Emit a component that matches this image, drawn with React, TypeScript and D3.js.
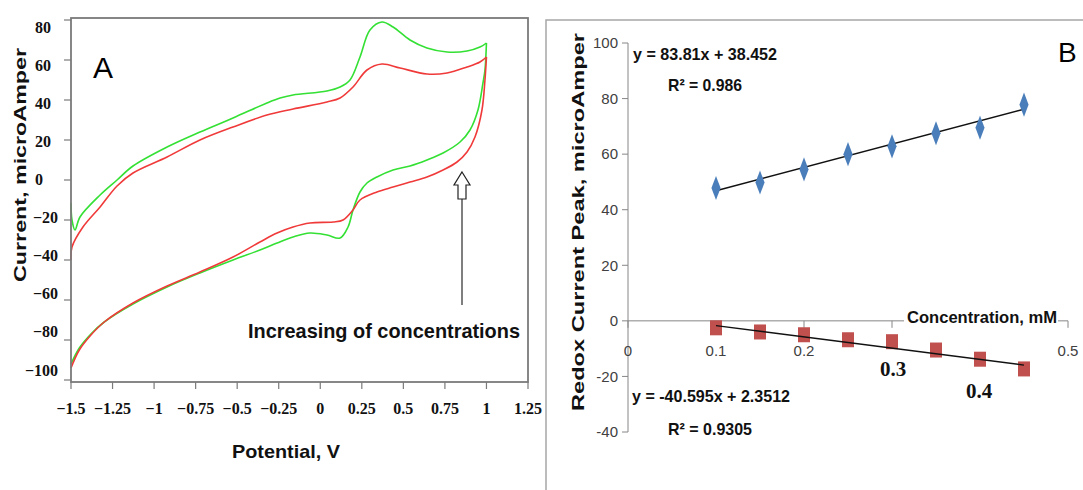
import React from "react";
import * as d3 from "d3";

// Panel A: cyclic voltammograms, [potential V, current microAmper]
const greenForward: [number, number][] = [
  [-1.5, -11.5], [-1.494, -20], [-1.476, -25], [-1.446, -18.5], [-1.325, -7.5],
  [-1.223, 0], [-1.127, 7], [-0.922, 16.5], [-0.724, 24], [-0.525, 31],
  [-0.321, 38.5], [-0.242, 41], [-0.164, 42.5], [0.04, 44.5], [0.119, 46.5],
  [0.179, 50], [0.239, 61.5], [0.299, 75], [0.371, 79], [0.438, 76.5],
  [0.54, 70], [0.642, 66], [0.763, 64], [0.883, 64.5], [0.961, 66.5], [1.0, 68.5],
];
const greenReverse: [number, number][] = [
  [1.0, 68.5], [0.991, 55], [0.979, 48.5], [0.949, 35], [0.901, 25], [0.841, 19],
  [0.739, 13.5], [0.642, 10], [0.54, 7], [0.438, 5], [0.341, 1.5], [0.281, -1.5],
  [0.239, -6], [0.197, -15], [0.167, -23.5], [0.119, -29], [0.04, -27.5],
  [-0.062, -26.5], [-0.164, -28.5], [-0.26, -31.5], [-0.363, -35], [-0.525, -40],
  [-0.724, -46.5], [-0.922, -53.5], [-1.127, -62], [-1.3, -71], [-1.38, -77],
  [-1.45, -84], [-1.5, -92],
];
const redForward: [number, number][] = [
  [-1.5, -40], [-1.494, -33.5], [-1.428, -23.5], [-1.325, -13.5], [-1.223, -3],
  [-1.127, 3.5], [-0.922, 11.5], [-0.724, 20], [-0.525, 26.5], [-0.321, 32.5],
  [-0.164, 35.5], [0.04, 39], [0.119, 41], [0.197, 46.5], [0.281, 55], [0.371, 58],
  [0.48, 56], [0.642, 53], [0.763, 53.5], [0.883, 56.5], [0.961, 59], [1.0, 61.5],
];
const redReverse: [number, number][] = [
  [1.0, 61.5], [0.991, 50], [0.973, 35], [0.931, 21.5], [0.883, 14], [0.823, 9],
  [0.739, 5], [0.642, 1.5], [0.54, -1], [0.438, -3.5], [0.341, -6], [0.239, -10],
  [0.197, -15], [0.137, -20], [0.077, -21], [-0.062, -21.5], [-0.164, -23.5],
  [-0.26, -26.5], [-0.363, -31], [-0.525, -38.5], [-0.724, -46], [-0.922, -53],
  [-1.127, -61.5], [-1.3, -71], [-1.38, -77.5], [-1.45, -85], [-1.5, -94],
];

const potentialTicks = [-1.5, -1.25, -1, -0.75, -0.5, -0.25, 0, 0.25, 0.5, 0.75, 1, 1.25];
const potentialLabels = ["−1.5", "−1.25", "−1", "−0.75", "−0.5", "−0.25", "0", "0.25", "0.5", "0.75", "1", "1.25"];
const currentTicks = [80, 60, 40, 20, 0, -20, -40, -60, -80, -100];
const currentLabels = ["80", "60", "40", "20", "0", "−20", "−40", "−60", "−80", "−100"];

// Panel B: peak current vs concentration
const concentrations = [0.1, 0.15, 0.2, 0.25, 0.3, 0.35, 0.4, 0.45];
const oxidationPeaks = [47.8, 49.8, 54.5, 60, 62.8, 67.5, 69.5, 77.8];
const reductionPeaks = [-2.5, -4, -5, -6.8, -7.5, -10.5, -13.8, -17.3];
const oxFit = { slope: 83.81, intercept: 38.452, label: "y = 83.81x + 38.452", r2: "R² = 0.986" };
const redFit = { slope: -40.595, intercept: 2.3512, label: "y = -40.595x + 2.3512", r2: "R² = 0.9305" };
const concTicks = [0, 0.1, 0.2, 0.3, 0.4, 0.5];
const concLabels = ["0", "0.1", "0.2", "0.3", "0.4", "0.5"];
// small labels at 0.3 / 0.4 are covered in the original, big overlays replace them
const concSmallShown = [true, true, true, false, false, true];
const peakTicks = [100, 80, 60, 40, 20, 0, -20, -40];

const App = () => {
  // panel A scales
  const xA = d3.scaleLinear().domain([-1.5, 1.25]).range([71, 528]);
  const yA = d3.scaleLinear().domain([-100, 80]).range([380, 20]);
  // the scanned tick labels drift from the tick marks
  const yALabel = d3.scaleLinear().domain([-100, 80]).range([370, 27]);
  const cv = d3.line<[number, number]>()
    .x(d => xA(d[0]))
    .y(d => yA(d[1]))
    .curve(d3.curveCatmullRom.alpha(0.5));

  // panel B scales
  const xB = d3.scaleLinear().domain([0, 0.5]).range([628, 1068]);
  const yB = d3.scaleLinear().domain([-40, 100]).range([432, 43]);
  const fitEnds = [concentrations[0], concentrations[concentrations.length - 1]];
  const diamond = d3.symbol(d3.symbolDiamond, 80)();

  const green = "#33e033";
  const red = "#f03a3a";
  const axisGray = "#868686";

  return (
    <svg width={1083} height={490} style={{ position: "absolute", left: 0, top: 0, background: "#fff" }}>
      {/* ---------- Panel A ---------- */}
      <g>
        <path d={cv(greenForward) || ""} fill="none" stroke={green} strokeWidth={1.6} />
        <path d={cv(greenReverse) || ""} fill="none" stroke={green} strokeWidth={1.6} />
        <path d={cv(redForward) || ""} fill="none" stroke={red} strokeWidth={1.6} />
        <path d={cv(redReverse) || ""} fill="none" stroke={red} strokeWidth={1.6} />
        <rect x={71} y={18} width={457} height={364} fill="none" stroke="#7a7a7a" strokeWidth={1.8} />
        {currentTicks.map(t => (
          <line key={"yt" + t} x1={64} x2={71} y1={yA(t)} y2={yA(t)} stroke="#7a7a7a" strokeWidth={1.2} />
        ))}
        {currentTicks.map((t, i) => (
          <text key={"yl" + t} x={t >= 0 ? 35 : 58} y={yALabel(t)} dy="0.35em"
            textAnchor={t >= 0 ? "start" : "end"}
            fontFamily="Liberation Serif" fontWeight="bold" fontSize={16} fill="#111">
            {currentLabels[i]}
          </text>
        ))}
        {potentialTicks.map(t => (
          <line key={"xt" + t} x1={xA(t)} x2={xA(t)} y1={382} y2={389} stroke="#7a7a7a" strokeWidth={1.2} />
        ))}
        {potentialTicks.map((t, i) => (
          <text key={"xl" + t} x={xA(t)} y={414} textAnchor="middle"
            fontFamily="Liberation Serif" fontWeight="bold" fontSize={16} fill="#111">
            {potentialLabels[i]}
          </text>
        ))}
        <text x={93} y={78} fontFamily="Liberation Sans" fontSize={30} fill="#000">A</text>
        <text transform="translate(26,165) rotate(-90)" textAnchor="middle"
          fontFamily="Liberation Sans" fontWeight="bold" fontSize={16}
          textLength={234} lengthAdjust="spacingAndGlyphs" fill="#111">
          Current, microAmper
        </text>
        <text x={286} y={458} textAnchor="middle" fontFamily="Liberation Sans" fontWeight="bold"
          fontSize={19} textLength={108} lengthAdjust="spacingAndGlyphs" fill="#111">
          Potential, V
        </text>
        <text x={248} y={338} fontFamily="Liberation Sans" fontWeight="bold" fontSize={21}
          textLength={272} lengthAdjust="spacingAndGlyphs" fill="#111">
          Increasing of concentrations
        </text>
        <line x1={462} x2={462} y1={199} y2={305} stroke="#555" strokeWidth={1.5} />
        <path d="M462,172 L470,185 L466,185 L466,199 L458,199 L458,185 L454,185 Z"
          fill="#fff" stroke="#222" strokeWidth={1.2} />
      </g>

      {/* ---------- Panel B ---------- */}
      <g>
        <path d="M546,495 L546,20 L1090,20" fill="none" stroke="#a6a6a6" strokeWidth={1.5} />
        <line x1={628} x2={628} y1={yB(100)} y2={yB(-40)} stroke={axisGray} strokeWidth={1} />
        {peakTicks.map(t => (
          <g key={"by" + t}>
            <line x1={622} x2={628} y1={yB(t)} y2={yB(t)} stroke={axisGray} strokeWidth={1} />
            <text x={618} y={yB(t)} dy="0.35em" textAnchor="end" fontFamily="Liberation Sans"
              fontSize={15} fill="#404040">{t}</text>
          </g>
        ))}
        <line x1={xB(0)} x2={xB(0.5)} y1={yB(0)} y2={yB(0)} stroke={axisGray} strokeWidth={1} />
        {concTicks.map((t, i) => (
          <g key={"bx" + t}>
            <line x1={xB(t)} x2={xB(t)} y1={yB(0)} y2={yB(0) + 7} stroke={axisGray} strokeWidth={1} />
            {concSmallShown[i] && (
              <text x={xB(t)} y={356} textAnchor="middle" fontFamily="Liberation Sans"
                fontSize={15} fill="#404040">{concLabels[i]}</text>
            )}
          </g>
        ))}
        <rect x={904} y={306} width={154} height={26} fill="#fff" />
        <text x={907} y={323} fontFamily="Liberation Sans" fontWeight="bold" fontSize={16}
          textLength={150} lengthAdjust="spacingAndGlyphs" fill="#111">
          Concentration, mM
        </text>
        <text transform="translate(584,222) rotate(-90)" textAnchor="middle"
          fontFamily="Liberation Sans" fontWeight="bold" fontSize={17}
          textLength={378} lengthAdjust="spacingAndGlyphs" fill="#111">
          Redox Current Peak, microAmper
        </text>

        {/* trend lines */}
        <line x1={xB(fitEnds[0])} x2={xB(fitEnds[1])}
          y1={yB(oxFit.slope * fitEnds[0] + oxFit.intercept)}
          y2={yB(oxFit.slope * fitEnds[1] + oxFit.intercept)} stroke="#111" strokeWidth={1.4} />
        {concentrations.map((c, i) => (
          <path key={"ox" + i} d={diamond || ""}
            transform={`translate(${xB(c)},${yB(oxidationPeaks[i])}) scale(0.95,1.45)`}
            fill="#4a7ebb" />
        ))}
        {concentrations.map((c, i) => (
          <rect key={"rd" + i} x={xB(c) - 6} y={yB(reductionPeaks[i]) - 7.5} width={12} height={15}
            fill="#c0504d" />
        ))}
        <line x1={xB(fitEnds[0])} x2={xB(fitEnds[1])}
          y1={yB(redFit.slope * fitEnds[0] + redFit.intercept)}
          y2={yB(redFit.slope * fitEnds[1] + redFit.intercept)} stroke="#111" strokeWidth={1.4} />

        <text x={633} y={60} fontFamily="Liberation Sans" fontWeight="bold" fontSize={17}
          textLength={144} lengthAdjust="spacingAndGlyphs" fill="#111">{oxFit.label}</text>
        <text x={668} y={91} fontFamily="Liberation Sans" fontWeight="bold" fontSize={17}
          textLength={74} lengthAdjust="spacingAndGlyphs" fill="#111">{oxFit.r2}</text>
        <text x={632} y={402} fontFamily="Liberation Sans" fontWeight="bold" fontSize={17}
          textLength={158} lengthAdjust="spacingAndGlyphs" fill="#111">{redFit.label}</text>
        <text x={668} y={435} fontFamily="Liberation Sans" fontWeight="bold" fontSize={17}
          textLength={84} lengthAdjust="spacingAndGlyphs" fill="#111">{redFit.r2}</text>

        <text x={893} y={376} textAnchor="middle" fontFamily="Liberation Serif" fontWeight="bold"
          fontSize={21} fill="#111">{concLabels[3]}</text>
        <text x={979} y={398} textAnchor="middle" fontFamily="Liberation Serif" fontWeight="bold"
          fontSize={21} fill="#111">{concLabels[4]}</text>
        <text x={1058} y={62} fontFamily="Liberation Sans" fontSize={28} fill="#000">B</text>
      </g>
    </svg>
  );
};

export default App;
